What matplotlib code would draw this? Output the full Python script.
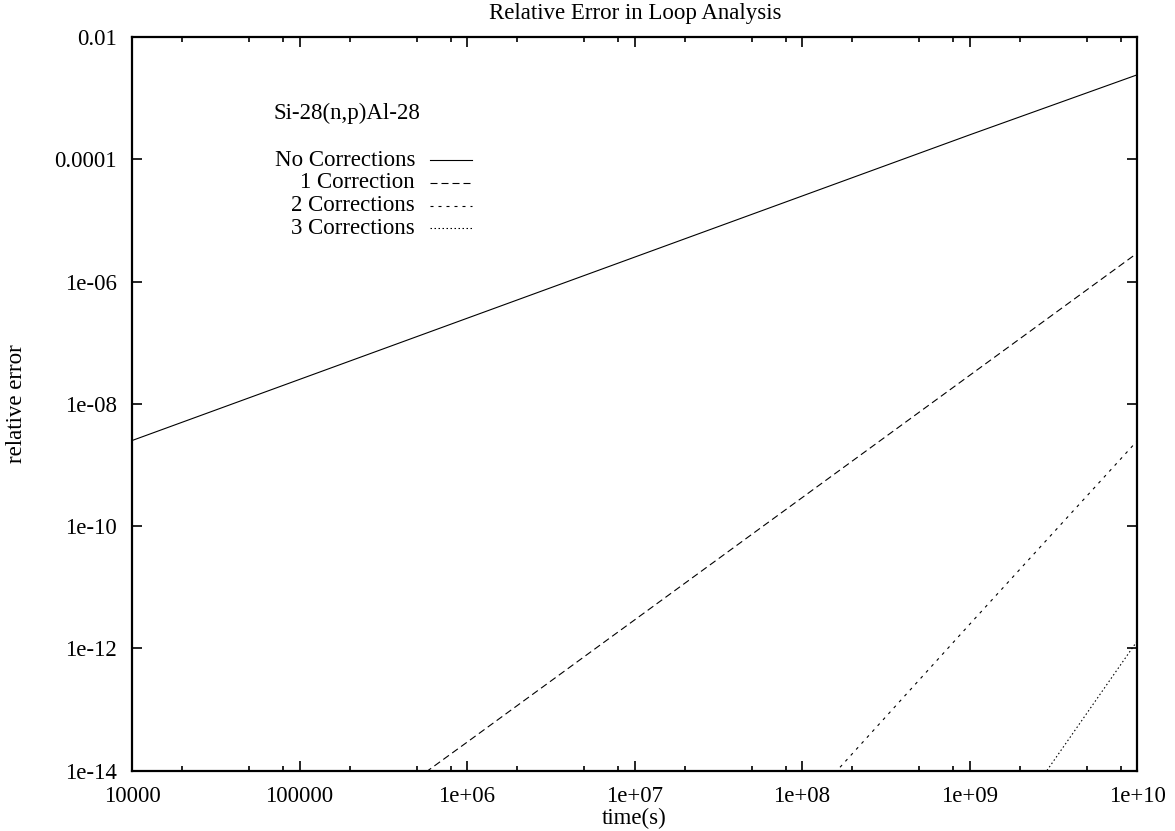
# Relative error of the loop analysis vs. irradiation time, Si-28(n,p)Al-28

import matplotlib
matplotlib.use("Agg")
import matplotlib.pyplot as plt
from matplotlib.ticker import FixedLocator, NullLocator, NullFormatter

# values (straight lines on log-log axes)
t_none = [1e4, 1e5, 1e6, 1e7, 1e8, 1e9, 1e10]
err_none = [2.5e-9, 2.5e-8, 2.5e-7, 2.5e-6, 2.5e-5, 2.5e-4, 2.4e-3]

t_one = [5e5, 1e6, 1e7, 1e8, 1e9, 1e10]
err_one = [7.3e-15, 2.9e-14, 2.9e-12, 2.9e-10, 2.9e-8, 2.9e-6]

t_two = [1e8, 1.62e8, 1e9, 1e10]
err_two = [2.4e-15, 1e-14, 2.45e-12, 2.45e-9]

t_three = [2.9e9, 1e10]
err_three = [1e-14, 1.3e-12]

x_ticks = [1e4, 1e5, 1e6, 1e7, 1e8, 1e9, 1e10]
x_labels = ["10000", "100000", "1e+06", "1e+07", "1e+08", "1e+09", "1e+10"]
y_ticks = [1e-14, 1e-12, 1e-10, 1e-8, 1e-6, 1e-4, 1e-2]
y_labels = ["1e-14", "1e-12", "1e-10", "1e-08", "1e-06", "0.0001", "0.01"]

labels = ["No Corrections", "1 Correction", "2 Corrections", "3 Corrections"]

plt.rcParams["font.family"] = ["Liberation Serif", "DejaVu Serif"]
plt.rcParams["font.size"] = 16.5

fig = plt.figure(figsize=(11.75, 8.31), dpi=100)
ax = fig.add_axes([132 / 1175, 1 - 770.5 / 831, 1005 / 1175, 733.5 / 831])

# dash lengths are scaled by the line width (0.8)
styles = [
    dict(linestyle="-"),
    dict(linestyle=(0, (6.3, 3.6))),
    dict(linestyle=(0, (2.7, 4.5))),
    dict(linestyle=(0, (1.35, 2.25))),
]
series = [(t_none, err_none), (t_one, err_one), (t_two, err_two), (t_three, err_three)]

for (t, e), st in zip(series, styles):
    ax.plot(t, e, color="black", lw=0.8, **st)

ax.set_xscale("log")
ax.set_yscale("log")
ax.set_xlim(1e4, 1e10)
ax.set_ylim(1e-14, 1e-2)

ax.xaxis.set_major_locator(FixedLocator(x_ticks))
ax.set_xticklabels(x_labels)
minor = [m * 10 ** k for k in range(4, 10) for m in (2, 5, 8)]
ax.xaxis.set_minor_locator(FixedLocator(minor))
ax.xaxis.set_minor_formatter(NullFormatter())
ax.yaxis.set_major_locator(FixedLocator(y_ticks))
ax.set_yticklabels(y_labels)
ax.yaxis.set_minor_locator(NullLocator())

ax.tick_params(which="both", direction="in", top=True, right=True, width=1.2)
ax.tick_params(which="major", length=7)
ax.tick_params(which="minor", length=3.5)
ax.tick_params(axis="x", pad=11)
ax.tick_params(axis="y", pad=11)
for sp in ax.spines.values():
    sp.set_linewidth(1.6)

# key, drawn by hand like gnuplot's right-aligned key
ax.text(0.1403, 0.8964, "Si-28(n,p)Al-28", transform=ax.transAxes,
        ha="left", va="center")
rows = [0.8323, 0.8010, 0.7696, 0.7396]
for lab, st, yr in zip(labels, styles, rows):
    ax.text(0.2816, yr, lab, transform=ax.transAxes, ha="right", va="center")
    ax.plot([0.2965, 0.3383], [yr, yr], transform=ax.transAxes,
            color="black", lw=0.8, **st)

fig.text(635 / 1175, 1 - 13 / 831, "Relative Error in Loop Analysis",
         ha="center", va="center")
fig.text(634.5 / 1175, 1 - 818 / 831, "time(s)", ha="center", va="center")
fig.text(17 / 1175, 1 - 403.5 / 831, "relative error", ha="center",
         va="center", rotation=90)

fig.savefig("out.png", dpi=100)
